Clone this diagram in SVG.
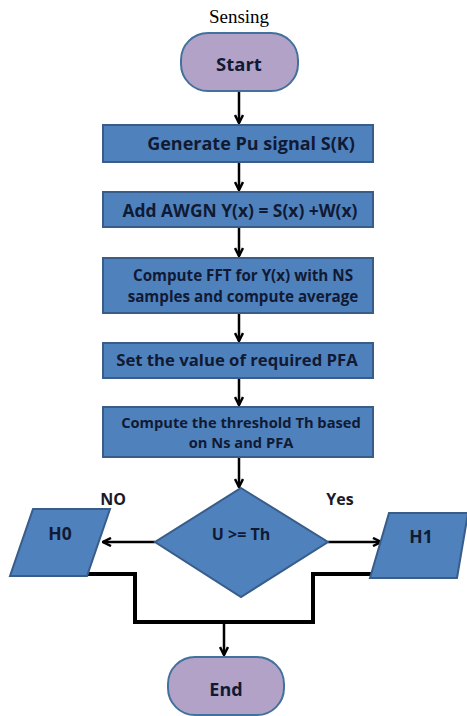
<svg xmlns="http://www.w3.org/2000/svg" width="467" height="716" viewBox="0 0 467 716">
<defs>
<style>
.box{fill:#4f81bd;stroke:#385d8a;stroke-width:2}
.term{fill:#b3a2c7;stroke:#41719c;stroke-width:2}
.t{font-family:"Open Sans","Liberation Sans",sans-serif;font-weight:bold;fill:#111a33;text-anchor:middle}
.c{fill:none;stroke:#000;stroke-width:2.5}
.thick{fill:none;stroke:#000;stroke-width:4}
.lbl{font-family:"Open Sans","Liberation Sans",sans-serif;font-weight:bold;fill:#1a1a2a;font-size:16px}
</style>
<marker id="ah" markerWidth="10" markerHeight="10" refX="9" refY="5" orient="auto" markerUnits="userSpaceOnUse">
<path d="M1,1 L9,5 L1,9" fill="none" stroke="#000" stroke-width="2.5"/>
</marker>
</defs>
<rect width="467" height="716" fill="#fff"/>
<text x="239" y="23" font-family="Liberation Serif,serif" font-size="19" text-anchor="middle" fill="#000">Sensing</text>
<g id="connectors">
<line class="c" x1="239" y1="91" x2="239" y2="123" marker-end="url(#ah)"/>
<line class="c" x1="239" y1="162" x2="239" y2="190" marker-end="url(#ah)"/>
<line class="c" x1="239" y1="227" x2="239" y2="256" marker-end="url(#ah)"/>
<line class="c" x1="239" y1="313" x2="239" y2="341" marker-end="url(#ah)"/>
<line class="c" x1="239" y1="378" x2="239" y2="405" marker-end="url(#ah)"/>
<line class="c" x1="239" y1="457" x2="239" y2="487" marker-end="url(#ah)"/>
<line class="c" x1="155" y1="542" x2="103" y2="542" marker-end="url(#ah)"/>
<line class="c" x1="328" y1="542" x2="381" y2="542" marker-end="url(#ah)"/>
<polyline class="thick" points="83,574 135,574 135,622 313,622 313,574 371,574"/>
<line class="c" x1="224" y1="622" x2="224" y2="655" marker-end="url(#ah)"/>
<text class="lbl" x="113" y="505" text-anchor="middle">NO</text>
<text class="lbl" x="340" y="505" text-anchor="middle">Yes</text>
</g>
<g id="start">
<rect class="term" x="181" y="33" width="117" height="58" rx="27"/>
<text class="t" x="239" y="71" font-size="18.5">Start</text>
</g>
<g id="generate">
<rect class="box" x="103" y="125" width="270" height="37"/>
<text class="t" x="251" y="150" font-size="18">Generate Pu signal S(K)</text>
</g>
<g id="awgn">
<rect class="box" x="103" y="192" width="270" height="35"/>
<text class="t" x="240" y="217" font-size="17.4">Add AWGN Y(x) = S(x) +W(x)</text>
</g>
<g id="fft">
<rect class="box" x="103" y="258" width="270" height="55"/>
<text class="t" x="243" y="281" font-size="15.2">Compute FFT for Y(x) with NS</text>
<text class="t" x="243" y="302" font-size="15.2">samples and compute average</text>
</g>
<g id="pfa">
<rect class="box" x="103" y="343" width="270" height="35"/>
<text class="t" x="237" y="366" font-size="16.7">Set the value of required PFA</text>
</g>
<g id="threshold">
<rect class="box" x="103" y="407" width="270" height="50"/>
<text class="t" x="241" y="428" font-size="14.7">Compute the threshold Th based</text>
<text class="t" x="241" y="448" font-size="14.7">on Ns and PFA</text>
</g>
<g id="decision">
<polygon class="box" points="241,488 328,542 241,597 155,542"/>
<text class="t" x="241" y="540" font-size="16">U &gt;= Th</text>
</g>
<g id="h0">
<polygon class="box" points="33,509 110,509 87,576 10,576"/>
<text class="t" x="60" y="540" font-size="17.5">H0</text>
</g>
<g id="h1">
<polygon class="box" points="389,513 468,513 457,578 370,578"/>
<text class="t" x="421" y="543" font-size="17.5">H1</text>
</g>
<g id="end">
<rect class="term" x="168" y="657" width="116" height="58" rx="27"/>
<text class="t" x="226" y="696" font-size="18">End</text>
</g>
</svg>
